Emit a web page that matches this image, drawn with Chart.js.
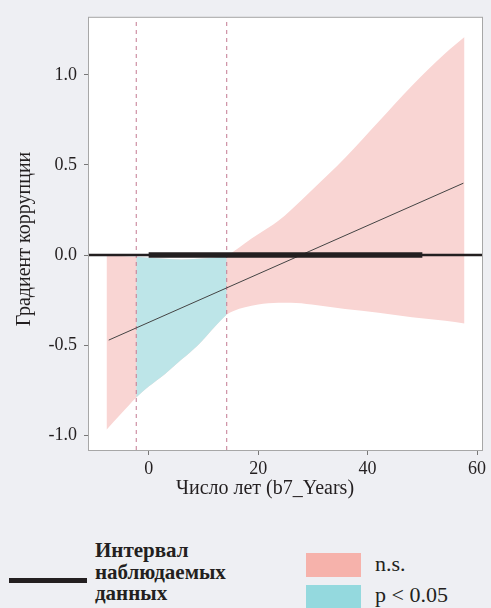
<!DOCTYPE html>
<html>
<head>
    <title>Градиент коррупции</title>
    <script src="https://cdn.jsdelivr.net/npm/chart.js"></script>
    <style>
        body { margin: 0; background: #eeeff3; font-family: "Liberation Serif", serif; color: #231f20; }
        #wrap { position: relative; width: 491px; height: 608px; overflow: hidden; }
        #chart { position: absolute; left: 0; top: 0; }
        .lg { position: absolute; }
    </style>
</head>
<body>
<div id="wrap">
    <canvas id="chart" width="491" height="510"></canvas>
    <div class="lg" style="left:9px; top:578px; width:78px; height:5px; background:#231f20;"></div>
    <div class="lg" style="left:95px; top:540px; font-weight:bold; font-size:21px; line-height:21.5px;">Интервал<br>наблюдаемых<br>данных</div>
    <div class="lg" style="left:306px; top:553px; width:55px; height:24px; background:#f6b2ab;"></div>
    <div class="lg" style="left:375px; top:552px; font-size:22px; line-height:24px;">n.s.</div>
    <div class="lg" style="left:306px; top:585px; width:55px; height:24px; background:#94d9de;"></div>
    <div class="lg" style="left:375px; top:583px; font-size:22px; line-height:24px;">p &lt; 0.05</div>
</div>

<script>
    // confidence band of the marginal effect
    const bandX     = [-7.7, -5, -2.27, 0, 3, 6, 9, 12, 14.26, 15.5, 17.6, 20, 23.7, 26, 29.8, 35.9, 42, 48.1, 54.2, 57.7];
    const bandUpper = [0.0, -0.005, -0.01, -0.015, -0.02, -0.025, -0.02, -0.015, -0.005, 0.02, 0.066, 0.115, 0.19, 0.25, 0.36, 0.54, 0.74, 0.94, 1.12, 1.21];
    const bandLower = [-0.97, -0.88, -0.79, -0.73, -0.66, -0.58, -0.5, -0.4, -0.33, -0.31, -0.29, -0.275, -0.265, -0.265, -0.275, -0.3, -0.32, -0.345, -0.365, -0.38];

    // region where p < 0.05
    const sigLo = -2.27;
    const sigHi = 14.26;

    // marginal effect line
    const effectX = [-7.3, 57.5];
    const effectY = [-0.472, 0.399];

    // range of observed data
    const observedX = [0, 50];

    const xRange = [-10.9, 60.9];
    const yRange = [-1.082, 1.317];
    const xTickValues = [0, 20, 40, 60];
    const yTickValues = [-1.0, -0.5, 0.0, 0.5, 1.0];

    const xTitle = 'Число лет (b7_Years)';
    const yTitle = 'Градиент коррупции';

    const pts = (xs, ys) => xs.map((x, i) => ({ x: x, y: ys[i] }));
    const sigIdx = bandX.map((x, i) => i).filter(i => bandX[i] >= sigLo && bandX[i] <= sigHi);
    const sigX = sigIdx.map(i => bandX[i]);
    const sigUpper = sigIdx.map(i => bandUpper[i]);
    const sigLower = sigIdx.map(i => bandLower[i]);

    const FONT = '"Liberation Serif", serif';
    const INK = '#231f20';

    const plotFrame = {
        id: 'plotFrame',
        beforeDraw(chart) {
            const a = chart.chartArea, c = chart.ctx;
            c.save();
            c.fillStyle = '#ffffff';
            c.fillRect(a.left, a.top, a.right - a.left, a.bottom - a.top);
            c.restore();
        },
        afterDraw(chart) {
            const a = chart.chartArea, c = chart.ctx;
            c.save();
            c.strokeStyle = '#a7a7a7';
            c.lineWidth = 1;
            c.strokeRect(a.left - 0.5, a.top - 0.5, a.right - a.left + 1, a.bottom - a.top + 1);
            c.fillStyle = INK;
            c.font = '20px ' + FONT;
            c.textAlign = 'center';
            c.textBaseline = 'middle';
            c.fillText(xTitle, 265, 489);
            c.translate(25, 239);
            c.rotate(-Math.PI / 2);
            c.fillText(yTitle, 0, 0);
            c.restore();
        }
    };

    const vline = (x) => ({
        data: pts([x, x], yRange),
        borderColor: '#c47a92', borderWidth: 1, borderDash: [4, 4],
        pointRadius: 0, fill: false, order: 5
    });

    const band = { borderWidth: 0, pointRadius: 0, cubicInterpolationMode: 'monotone' };

    new Chart(document.getElementById('chart'), {
        type: 'line',
        data: {
            datasets: [
                { ...band, data: pts(bandX, bandUpper), fill: '+1', backgroundColor: '#f9d5d3', order: 10 },
                { ...band, data: pts(bandX, bandLower), fill: false, order: 9 },
                { ...band, data: pts(sigX, sigUpper), fill: '+1', backgroundColor: '#bde5e8', order: 8 },
                { ...band, data: pts(sigX, sigLower), fill: false, order: 7 },
                vline(sigLo),
                vline(sigHi),
                { data: pts(xRange, [0, 0]), borderColor: INK, borderWidth: 2.5, pointRadius: 0, fill: false, order: 4 },
                { data: pts(effectX, effectY), borderColor: '#444', borderWidth: 1, pointRadius: 0, fill: false, order: 3 },
                { data: pts(observedX, [0, 0]), borderColor: INK, borderWidth: 5.5, pointRadius: 0, fill: false,
                  borderCapStyle: 'butt', order: 2 }
            ]
        },
        options: {
            responsive: false,
            animation: false,
            devicePixelRatio: 1,
            layout: { padding: { top: 11, right: 9, left: 0, bottom: 0 } },
            plugins: { legend: { display: false }, tooltip: { enabled: false } },
            scales: {
                x: {
                    type: 'linear', min: xRange[0], max: xRange[1],
                    afterFit(s) { s.height = 60; },
                    afterBuildTicks(s) { s.ticks = xTickValues.map(v => ({ value: v })); },
                    grid: { drawOnChartArea: false, tickLength: 5, color: '#777' },
                    border: { display: false },
                    ticks: { color: INK, font: { family: FONT, size: 18 }, padding: 3, maxRotation: 0 }
                },
                y: {
                    type: 'linear', min: yRange[0], max: yRange[1],
                    afterFit(s) { s.width = 89; },
                    afterBuildTicks(s) { s.ticks = yTickValues.map(v => ({ value: v })); },
                    grid: { drawOnChartArea: false, tickLength: 5, color: '#777' },
                    border: { display: false },
                    ticks: { color: INK, font: { family: FONT, size: 18 }, padding: 7,
                             callback: v => v.toFixed(1) }
                }
            }
        },
        plugins: [plotFrame]
    });
</script>
</body>
</html>
